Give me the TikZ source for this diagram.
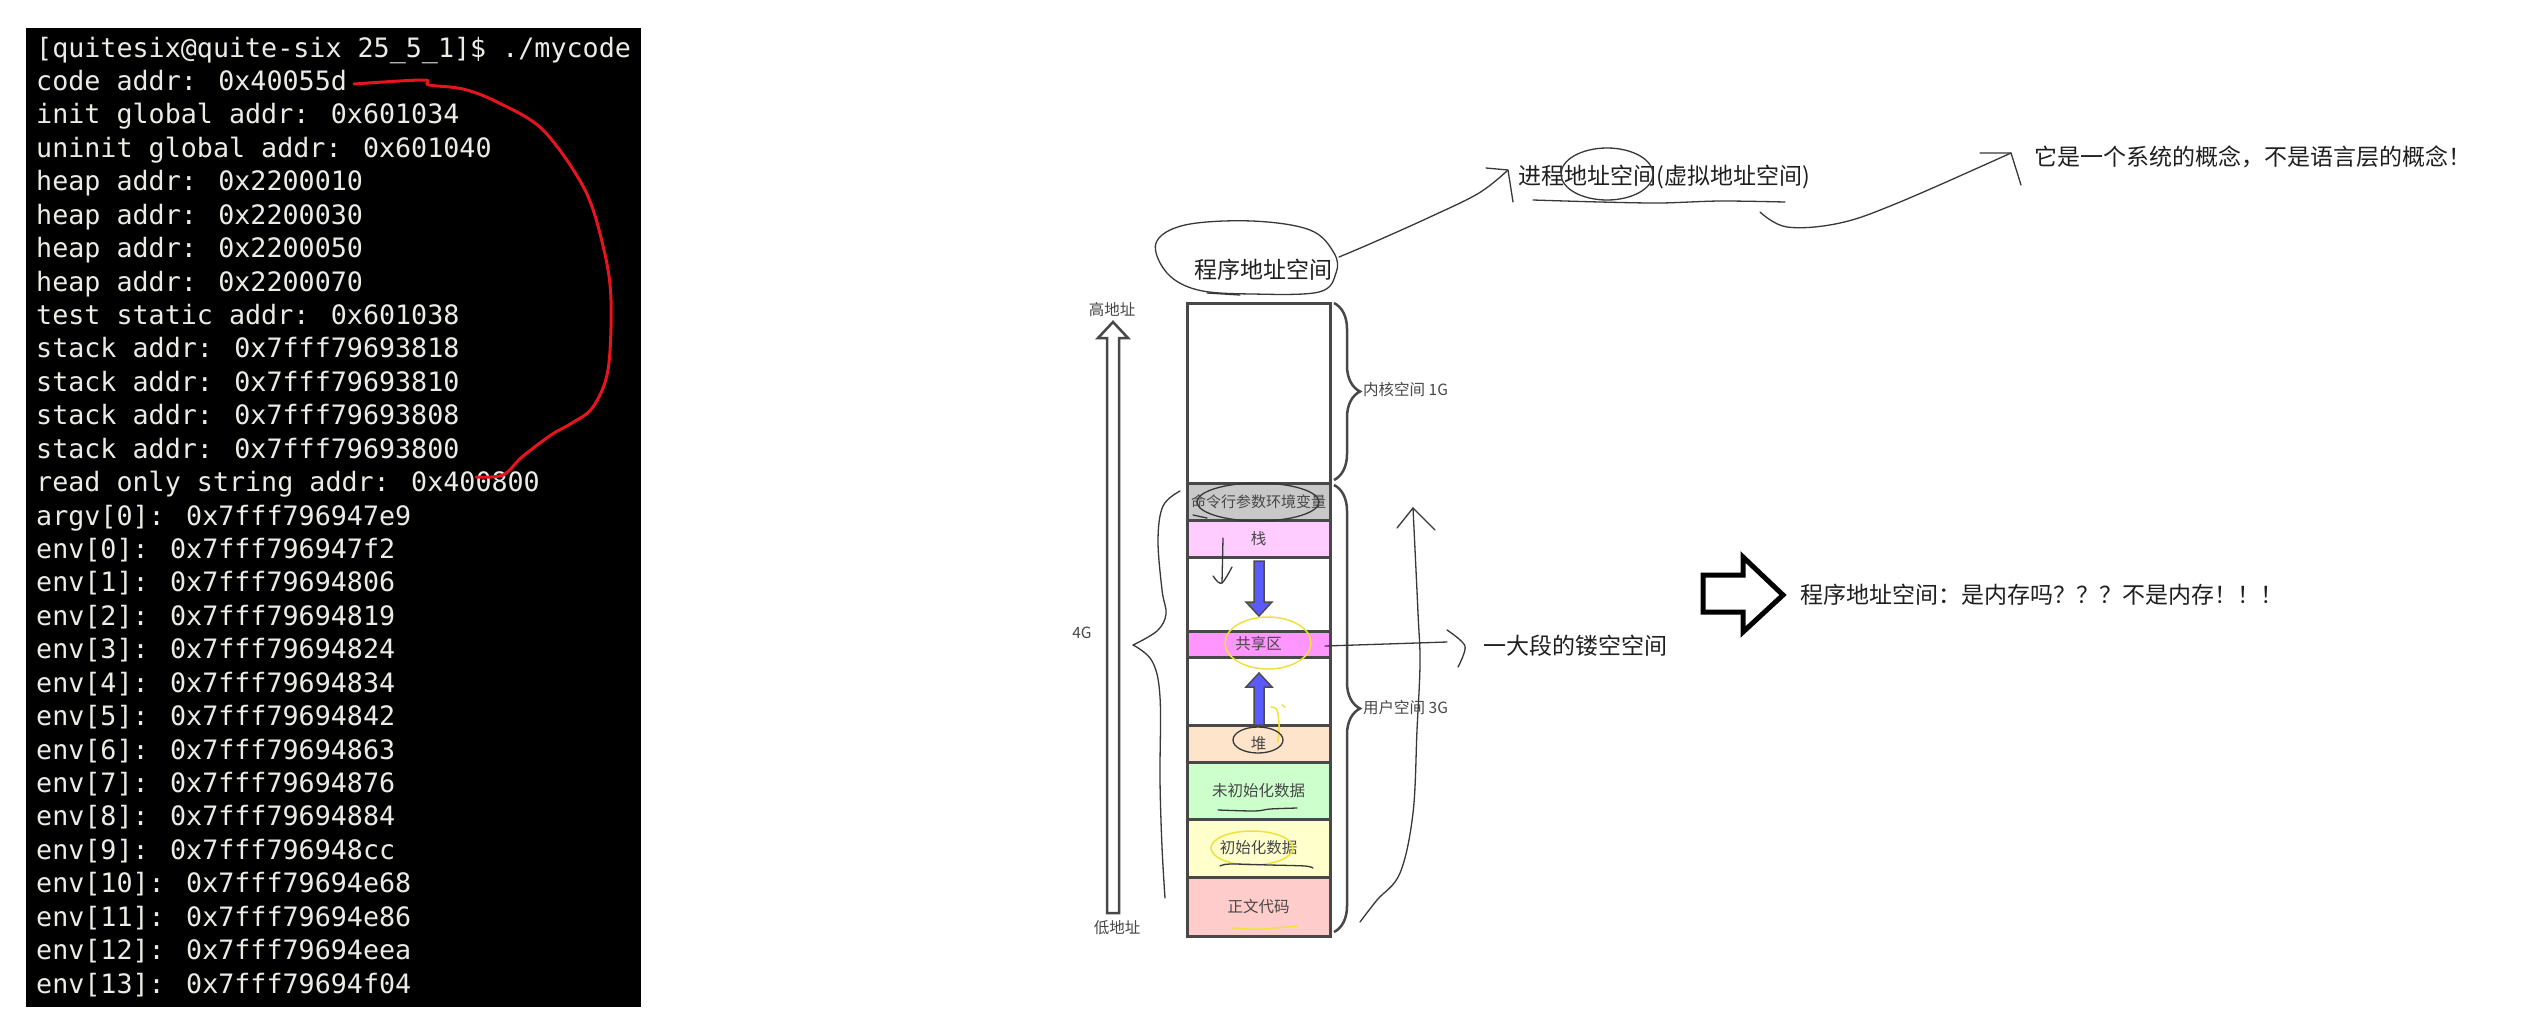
\documentclass[tikz,border=0pt]{standalone}
\usepackage{fontspec}
\newfontfamily\cjk{Noto Sans CJK SC}
\newfontfamily\termfont{DejaVu Sans Mono}
\usetikzlibrary{decorations.pathreplacing}
\definecolor{termtext}{RGB}{236,236,230}
\definecolor{boxline}{RGB}{72,72,72}
\definecolor{argsfill}{RGB}{200,200,200}
\definecolor{stackfill}{RGB}{255,204,255}
\definecolor{sharedfill}{RGB}{255,150,255}
\definecolor{heapfill}{RGB}{255,228,204}
\definecolor{bssfill}{RGB}{204,255,204}
\definecolor{datafill}{RGB}{255,255,204}
\definecolor{codefill}{RGB}{255,204,204}
\definecolor{bluefill}{RGB}{90,90,255}
\definecolor{redpen}{RGB}{230,20,30}
\definecolor{yellowpen}{RGB}{240,225,60}
\begin{document}
\begin{tikzpicture}[x=1pt,y=-1pt,
  term/.style={anchor=base west, inner sep=0, text=termtext, font=\termfont\fontsize{26.7}{30}\selectfont},
  big/.style={inner sep=0, text=black!88, font=\cjk\fontsize{23}{26}\selectfont},
  small/.style={inner sep=0, text=black!72, font=\cjk\fontsize{15.5}{18}\selectfont},
  seg/.style={draw=boxline, line width=3, minimum width=143, inner sep=0, text=black!72, font=\cjk\fontsize{15.5}{18}\selectfont},
  sketch/.style={draw=black!78, line width=1.3, line cap=round, line join=round},
  ysketch/.style={draw=yellowpen, line width=1.5, line cap=round},
  bluearrow/.style={fill=bluefill, draw=black!70, line width=1.5, line join=miter},
  brace/.style={draw=boxline, line width=2.5, decorate, decoration={brace, amplitude=26pt}}]
\useasboundingbox (0,0) rectangle (2548,1034);
\fill[white] (0,0) rectangle (2548,1034);

% ---------- terminal ----------
\fill[black] (26,28) rectangle (641,1007);
\foreach \t [count=\i from 0] in {
  {[quitesix@quite-six 25\_5\_1]\$ ./mycode},
  {code addr: 0x40055d},
  {init global addr: 0x601034},
  {uninit global addr: 0x601040},
  {heap addr: 0x2200010},
  {heap addr: 0x2200030},
  {heap addr: 0x2200050},
  {heap addr: 0x2200070},
  {test static addr: 0x601038},
  {stack addr: 0x7fff79693818},
  {stack addr: 0x7fff79693810},
  {stack addr: 0x7fff79693808},
  {stack addr: 0x7fff79693800},
  {read only string addr: 0x400800},
  {argv[0]: 0x7fff796947e9},
  {env[0]: 0x7fff796947f2},
  {env[1]: 0x7fff79694806},
  {env[2]: 0x7fff79694819},
  {env[3]: 0x7fff79694824},
  {env[4]: 0x7fff79694834},
  {env[5]: 0x7fff79694842},
  {env[6]: 0x7fff79694863},
  {env[7]: 0x7fff79694876},
  {env[8]: 0x7fff79694884},
  {env[9]: 0x7fff796948cc},
  {env[10]: 0x7fff79694e68},
  {env[11]: 0x7fff79694e86},
  {env[12]: 0x7fff79694eea},
  {env[13]: 0x7fff79694f04}}
  \node[term] (term\i) at (36,{57+33.43*\i}) {\t};
\draw[redpen, line width=3, line cap=round] plot[smooth, tension=0.55] coordinates {
  (354,84) (423,80) (429,85) (463,89) (497,102) (543,130) (585,190) (604,250)
  (611,300) (608,370) (593,407) (572,423) (551,435) (522,457) (503,475) (476,477)};

% ---------- memory column ----------
\node[seg, fill=white,      minimum height=180] (kernel) at (1258.5,393)   {};
\node[seg, fill=argsfill,   minimum height=37, font=\cjk\fontsize{15}{18}\selectfont] (args) at (1258.5,501.5) {命令行参数环境变量};
\node[seg, fill=stackfill,  minimum height=37]  (stack)  at (1258.5,538.5) {栈};
\node[seg, fill=white,      minimum height=74]  (gap1)   at (1258.5,594)   {};
\node[seg, fill=sharedfill, minimum height=26]  (shared) at (1258.5,644)   {共享区};
\node[seg, fill=white,      minimum height=68]  (gap2)   at (1258.5,691)   {};
\node[seg, fill=heapfill,   minimum height=37]  (heap)   at (1258.5,743.5) {堆};
\node[seg, fill=bssfill,    minimum height=57]  (bss)    at (1258.5,790.5) {未初始化数据};
\node[seg, fill=datafill,   minimum height=58]  (data)   at (1258.5,848)   {初始化数据};
\node[seg, fill=codefill,   minimum height=59]  (code)   at (1258.5,906.5) {正文代码};

% blue growth arrows
\draw[bluearrow] (1254,561) -- (1264,561) -- (1264,602) -- (1272,602) -- (1259,616)
  -- (1246,602) -- (1254,602) -- cycle;
\draw[bluearrow] (1254,725) -- (1254,687) -- (1246,687) -- (1259,673) -- (1272,687)
  -- (1264,687) -- (1264,725) -- cycle;

% hollow address arrow
\draw[draw=boxline, line width=2.5, fill=white, line join=miter]
  (1107,913) -- (1107,338) -- (1098,338) -- (1113,322) -- (1128,338) -- (1119,338) -- (1119,913) -- cycle;
\node[small] (high) at (1112,310) {高地址};
\node[small] (low)  at (1117,928) {低地址};

% braces
\draw[brace] (1334,303) -- (1334,480);
\draw[brace] (1334,485) -- (1334,932);
\node[small, anchor=west] (klabel) at (1363,390) {内核空间 1G};
\node[small, anchor=west] (ulabel) at (1363,708) {用户空间 3G};

% hand drawn 4G brace
\draw[sketch] plot[smooth, tension=0.6] coordinates {(1180,491) (1163,506) (1158,540) (1162,590) (1166,614) (1157,631) (1133,645)};
\draw[sketch] plot[smooth, tension=0.6] coordinates {(1133,645) (1152,661) (1160,697) (1160,780) (1162,847) (1165,898)};
\node[small] (fourg) at (1082,633) {4G};

% hand drawn marks on the column
\draw[sketch] (1258,502) ellipse [x radius=61, y radius=19];
\draw[sketch] (1193,515) -- (1207,518);
\draw[sketch] (1223,538) -- (1222,583);
\draw[sketch] plot[smooth] coordinates {(1213,576) (1218,582) (1222,583) (1227,576) (1232,567)};
\draw[ysketch] (1268,643) ellipse [x radius=43, y radius=26];
\draw[ysketch] plot[smooth] coordinates {(1278,742) (1279,725) (1277,710) (1271,707)};
\draw[ysketch] (1282,705) -- (1285,707);
\draw[sketch] (1258,740) ellipse [x radius=25, y radius=13];
\draw[sketch] plot[smooth] coordinates {(1218,810) (1255,811) (1270,809) (1297,808)};
\draw[ysketch] (1252,848) ellipse [x radius=41, y radius=17];
\draw[sketch] plot[smooth] coordinates {(1220,866) (1230,864) (1270,865) (1305,866) (1313,868)};
\draw[ysketch] plot[smooth] coordinates {(1232,928) (1260,929) (1297,926)};

% big hand drawn arrow on the right of the column
\draw[sketch] plot[smooth, tension=0.6] coordinates {(1360,922) (1377,900) (1400,873) (1413,813) (1417,730) (1420,663) (1418,613) (1413,508)};
\draw[sketch] (1397,528) -- (1413,508) -- (1435,530);

% hollow part label
\coordinate (sharedR) at (1325,646);
\coordinate (hollowL) at (1447,642);
\draw[sketch] (sharedR) -- (hollowL);
\draw[sketch] plot[smooth] coordinates {(1447,630) (1465,646) (1458,667)};
\node[big] (hollow) at (1575,646) {一大段的镂空空间};

% top annotations
\node[big] (prog) at (1263,270) {程序地址空间};
\draw[sketch] plot[smooth cycle, tension=0.6] coordinates {(1156,243) (1185,225) (1252,221) (1310,230) (1334,253) (1336,273) (1319,292) (1252,294) (1198,290) (1167,273)};
\draw[sketch] (1207,293) -- (1240,295);
\node[big] (proc) at (1664,177) {进程地址空间(虚拟地址空间)};
\draw[sketch] plot[smooth, tension=0.6] coordinates {(1339,257) (1372,243) (1430,217) (1479,193) (1508,170)};
\draw[sketch] (1486,168) -- (1508,170) -- (1513,202);
\draw[sketch] (1607,174) ellipse [x radius=46, y radius=26];
\draw[sketch] plot[smooth] coordinates {(1533,200) (1600,202) (1660,203) (1720,201) (1785,202)};
\node[big] (sys) at (2253,157) {它是一个系统的概念，不是语言层的概念！};
\draw[sketch] plot[smooth, tension=0.6] coordinates {(1760,212) (1787,227) (1840,223) (1900,202) (2011,153)};
\draw[sketch] (1980,153) -- (2011,153) -- (2021,185);

% big hollow arrow and question
\draw[black, line width=5, line join=miter, fill=white]
  (1703,575) -- (1743,575) -- (1743,557) -- (1783,595) -- (1743,632) -- (1743,612) -- (1703,612) -- cycle;
\node[big, anchor=west] (question) at (1800,595) {程序地址空间：是内存吗？？？不是内存！！！};
\end{tikzpicture}
\end{document}
